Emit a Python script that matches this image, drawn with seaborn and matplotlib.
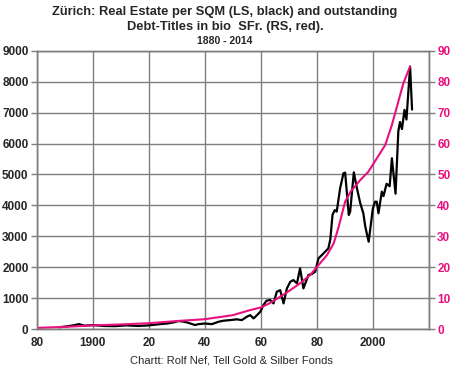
import matplotlib
matplotlib.use('Agg')
import matplotlib.pyplot as plt
import pandas as pd
import seaborn as sns

# Immobilienpreise Zürich pro m2 (LS, schwarz)
re_years = [1888, 1890, 1893, 1895, 1897, 1900, 1904, 1908, 1912, 1916, 1920, 1924,
            1926.5, 1929, 1930.5, 1932.5, 1934, 1936.5, 1937.7, 1940, 1942.5, 1945,
            1946.6, 1949, 1951.4, 1953.2, 1955, 1956.2, 1957.4, 1958.6, 1959.8, 1960.9,
            1962, 1963.3, 1964.5, 1965.7, 1966.9, 1968.1, 1969.3, 1970.5, 1971.6, 1972.9,
            1974, 1975.2, 1977, 1978.2, 1979.4, 1980.6, 1981.8, 1984.1, 1984.8, 1985.6,
            1986.4, 1987.1, 1988.3, 1989.5, 1990.1, 1991.4, 1991.9, 1993.2, 1994.2,
            1995.5, 1996.6, 1997.3, 1998.5, 2000.0, 2000.8, 2001.4, 2002, 2003.2, 2003.8,
            2004.9, 2006, 2006.8, 2008.1, 2009.1, 2009.7, 2010.4, 2011.3, 2012, 2013.3, 2014]
re_values = [60, 80, 120, 160, 110, 130, 100, 95, 120, 100, 120, 160,
             180, 220, 260, 240, 205, 130, 160, 180, 160, 240,
             270, 290, 315, 290, 400, 450, 345, 450, 560, 775,
             915, 940, 830, 1210, 1260, 830, 1315, 1530, 1585, 1480,
             1965, 1315, 1750, 1780, 1855, 2290, 2395, 2610, 2900, 3700,
             3850, 3800, 4550, 5040, 5060, 3690, 3800, 5070, 4600,
             4070, 3745, 3310, 2825, 3900, 4120, 4120, 3745, 4445, 4300,
             4700, 4620, 5525, 4380, 6400, 6700, 6470, 7090, 6780, 8490, 7100]

# Schuldtitel in Mrd SFr (RS, rot)
debt_years = [1880, 1890, 1900, 1910, 1920, 1930, 1940, 1950, 1956, 1960, 1963, 1967,
              1970.5, 1974, 1977.6, 1980.6, 1983.6, 1986, 1987.8, 1989, 1990.1, 1992,
              1995.5, 1998.4, 2001.4, 2004.4, 2006.8, 2009.1, 2010.9, 2013.3]
debt_values = [0.4, 0.7, 1.2, 1.5, 1.9, 2.6, 3.2, 4.5, 6.1, 7.0, 8.3, 10.5,
               12.6, 14.8, 17.5, 20.7, 23.9, 27.7, 33.1, 37.4, 41.2, 44.4,
               48.2, 50.9, 55.2, 59.5, 66.0, 73.6, 79.5, 85.0]

x_ticks = [1880, 1900, 1920, 1940, 1960, 1980, 2000, 2020]
x_labels = ['80', '1900', '20', '40', '60', '80', '2000', '']

pink = '#E8107F'
grid_col = '#7f7f7f'

sns.set_style('white')
plt.rcParams['font.family'] = ['Liberation Sans', 'DejaVu Sans']

df_re = pd.DataFrame({'year': re_years, 'value': re_values})
df_debt = pd.DataFrame({'year': debt_years, 'value': debt_values})

fig = plt.figure(figsize=(4.5, 3.71), dpi=100)
ax = fig.add_axes([0.082, 0.113, 0.871, 0.75])
ax2 = ax.twinx()

sns.lineplot(data=df_re, x='year', y='value', ax=ax, color='black', linewidth=1.6)
sns.lineplot(data=df_debt, x='year', y='value', ax=ax2, color=pink, linewidth=1.5)

ax.set_xlim(1880, 2020)
ax.set_ylim(0, 9000)
ax2.set_ylim(0, 90)
ax.set_xticks(x_ticks)
ax.set_xticklabels(x_labels)
ax.set_yticks(range(0, 9001, 1000))
ax2.set_yticks(range(0, 91, 10))
ax.set_xlabel('')
ax.set_ylabel('')
ax2.set_ylabel('')

ax.grid(True, color=grid_col, linewidth=1)
for a in (ax, ax2):
    for s in a.spines.values():
        s.set_color(grid_col)
        s.set_linewidth(1)

ax.tick_params(axis='both', labelsize=8.5, length=4, width=1, color=grid_col, pad=2)
ax2.tick_params(axis='y', labelsize=8.5, length=4, width=1, color=grid_col, labelcolor=pink, pad=2)
for lab in ax.get_xticklabels() + ax.get_yticklabels() + ax2.get_yticklabels():
    lab.set_fontweight('bold')

# Otsikot
fig.text(0.5, 0.985, 'Zürich: Real Estate per SQM (LS, black) and outstanding',
         ha='center', va='top', fontsize=9.3, fontweight='bold')
fig.text(0.5, 0.944, 'Debt-Titles in bio  SFr. (RS, red).',
         ha='center', va='top', fontsize=9.3, fontweight='bold')
fig.text(0.5, 0.902, '1880 - 2014', ha='center', va='top', fontsize=7.5, fontweight='bold')
fig.text(0.515, 0.015, 'Chartt: Rolf Nef, Tell Gold & Silber Fonds',
         ha='center', va='bottom', fontsize=8)

fig.savefig('out.png', dpi=100)
